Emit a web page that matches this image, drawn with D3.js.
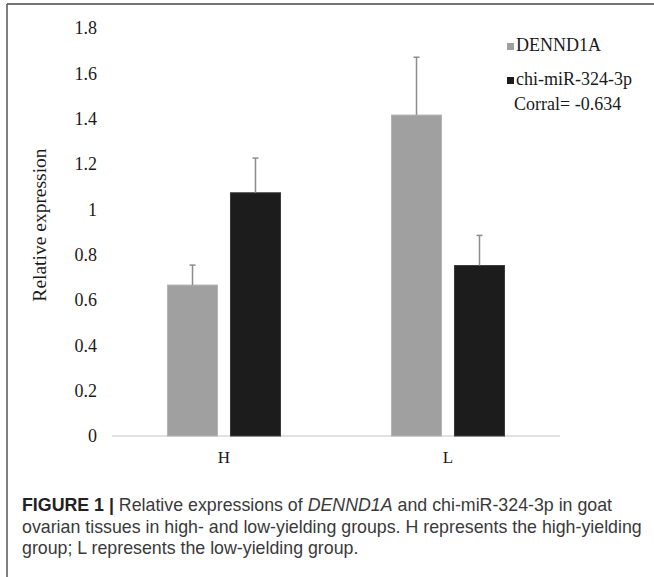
<!DOCTYPE html>
<html>
<head>
<meta charset="utf-8">
<script src="https://cdn.jsdelivr.net/npm/d3@7"></script>
<style>
  body { margin: 0; background: #fff; }
  svg { display: block; }
</style>
</head>
<body>
<svg id="chart"></svg>
<script>
// data
var groups = ["H", "L"];
var series = ["DENND1A", "chi-miR-324-3p"];
var meanValues = [[0.666, 1.073], [1.416, 0.752]];   // per group, per series
var errValues = [[0.088, 0.153], [0.255, 0.133]];    // upper error only
var yTicks = [0, 0.2, 0.4, 0.6, 0.8, 1, 1.2, 1.4, 1.6, 1.8];
var seriesColors = ["#a0a0a0", "#1c1c1c"];
var corrText = "Corral= -0.634";

var width = 654, height = 577;
var svg = d3.select("#chart").attr("width", width).attr("height", height);

// frame (left and top edges only)
svg.append("line").attr("x1", 7).attr("y1", 4).attr("x2", width).attr("y2", 4)
    .attr("stroke", "#444").attr("stroke-width", 1.5);
svg.append("line").attr("x1", 7).attr("y1", 4).attr("x2", 7).attr("y2", height)
    .attr("stroke", "#555").attr("stroke-width", 1.5);

// scales
var y = d3.scaleLinear().domain([0, 1.8]).range([436, 28]);
var x0 = d3.scaleBand().domain(groups).range([112, 560]);
var x1 = d3.scaleBand().domain(series)
    .range([55.5, x0.bandwidth() - 55.5])
    .paddingInner(0.206);

var serif = "'Liberation Serif', 'Times New Roman', serif";

// y axis labels only
var yAxis = d3.axisLeft(y).tickValues(yTicks).tickSize(0).tickPadding(15)
    .tickFormat(d3.format("~g"));
var gy = svg.append("g").attr("transform", "translate(112,0)").call(yAxis);
gy.select(".domain").remove();
gy.selectAll("text").attr("font-family", serif).attr("font-size", 18).attr("fill", "#1a1a1a");

// baseline
svg.append("line").attr("x1", x0.range()[0]).attr("x2", x0.range()[1])
    .attr("y1", y(0)).attr("y2", y(0)).attr("stroke", "#d9d9d9").attr("stroke-width", 1.5);

// x labels
svg.selectAll(".xlab").data(groups).enter().append("text")
    .attr("class", "xlab")
    .attr("x", function (d) { return x0(d) + x0.bandwidth() / 2; })
    .attr("y", 463)
    .attr("text-anchor", "middle")
    .attr("font-family", serif).attr("font-size", 17).attr("fill", "#1a1a1a")
    .text(function (d) { return d; });

// bars
var barData = [];
groups.forEach(function (g, i) {
    series.forEach(function (s, j) {
        barData.push({ g: g, s: s, v: meanValues[i][j], e: errValues[i][j], c: seriesColors[j] });
    });
});

svg.selectAll(".bar").data(barData).enter().append("rect")
    .attr("class", "bar")
    .attr("x", function (d) { return x0(d.g) + x1(d.s); })
    .attr("y", function (d) { return y(d.v); })
    .attr("width", x1.bandwidth())
    .attr("height", function (d) { return y(0) - y(d.v); })
    .attr("fill", function (d) { return d.c; })
    .attr("stroke", function (d, i) { return i % 2 ? "#3a3a3a" : "#b5b5b5"; })
    .attr("stroke-width", 1);

// error bars (upper only)
var eb = svg.selectAll(".err").data(barData).enter().append("g").attr("class", "err")
    .attr("stroke", "#8c8c8c").attr("stroke-width", 1.5);
eb.append("line")
    .attr("x1", function (d) { return x0(d.g) + x1(d.s) + x1.bandwidth() / 2; })
    .attr("x2", function (d) { return x0(d.g) + x1(d.s) + x1.bandwidth() / 2; })
    .attr("y1", function (d) { return y(d.v); })
    .attr("y2", function (d) { return y(d.v + d.e); });
eb.append("line")
    .attr("x1", function (d) { return x0(d.g) + x1(d.s) + x1.bandwidth() / 2 - 3; })
    .attr("x2", function (d) { return x0(d.g) + x1(d.s) + x1.bandwidth() / 2 + 3; })
    .attr("y1", function (d) { return y(d.v + d.e); })
    .attr("y2", function (d) { return y(d.v + d.e); });

// y title
svg.append("text")
    .attr("transform", "translate(46,225) rotate(-90)")
    .attr("text-anchor", "middle")
    .attr("font-family", serif).attr("font-size", 19.5).attr("fill", "#1a1a1a")
    .text("Relative expression");

// legend
var legend = svg.selectAll(".leg").data(series).enter().append("g").attr("class", "leg")
    .attr("transform", function (d, i) { return "translate(507," + (51 + i * 34) + ")"; });
legend.append("rect").attr("x", 0).attr("y", -8).attr("width", 7).attr("height", 7)
    .attr("fill", function (d, i) { return seriesColors[i]; });
legend.append("text").attr("x", 9).attr("y", 0)
    .attr("font-family", serif).attr("font-size", 18).attr("fill", "#1a1a1a")
    .text(function (d) { return d; });
svg.append("text").attr("x", 514).attr("y", 110)
    .attr("font-family", serif).attr("font-size", 18).attr("fill", "#1a1a1a")
    .text(corrText);

// caption
var sans = "'Liberation Sans', Arial, Helvetica, sans-serif";
var cap = svg.append("text").attr("font-family", sans).attr("font-size", 17.8).attr("fill", "#3a3a3a");
var l1 = cap.append("tspan").attr("x", 22).attr("y", 511);
l1.append("tspan").attr("font-weight", "bold").attr("fill", "#222").text("FIGURE 1 |");
l1.append("tspan").text(" Relative expressions of ");
l1.append("tspan").attr("font-style", "italic").text("DENND1A");
l1.append("tspan").text(" and chi-miR-324-3p in goat");
cap.append("tspan").attr("x", 22).attr("y", 533)
    .text("ovarian tissues in high- and low-yielding groups. H represents the high-yielding");
cap.append("tspan").attr("x", 22).attr("y", 554)
    .text("group; L represents the low-yielding group.");
</script>
</body>
</html>
